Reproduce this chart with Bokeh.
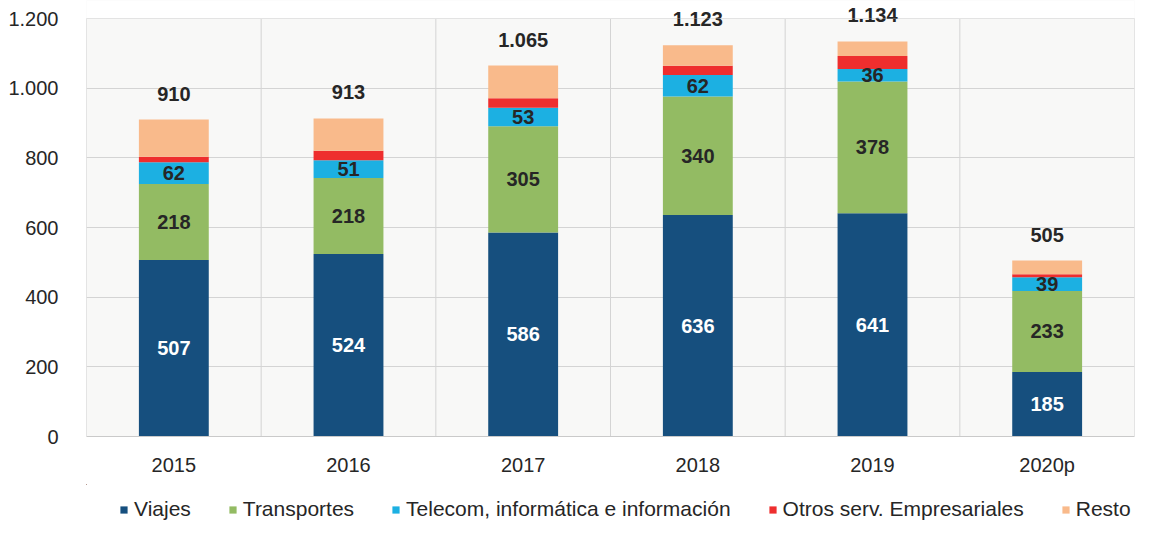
from bokeh.plotting import figure
from bokeh.layouts import column
from bokeh.models import (ColumnDataSource, Legend, LegendItem, FixedTicker, Range1d,
                          BoxAnnotation)
from bokeh.embed import file_html
from bokeh.resources import INLINE
from bokeh.core.properties import value

years = ["2015", "2016", "2017", "2018", "2019", "2020p"]
viajes = [507, 524, 586, 636, 641, 185]
transportes = [218, 218, 305, 340, 378, 233]
telecom = [62, 51, 53, 62, 36, 39]
otros = [16, 27, 27, 26, 37, 9]
resto = [107, 93, 94, 59, 42, 39]
totals = [910, 913, 1065, 1123, 1134, 505]

series = ["Viajes", "Transportes", "Telecom, informática e información",
          "Otros serv. Empresariales", "Resto"]
colors = ["#164F7E", "#93BB63", "#1CB0E2", "#EE2E2E", "#F9BA8B"]
y_ticks = [0, 200, 400, 600, 800, 1000, 1200]
y_max = 1200

FONT = "Liberation Sans"
GRID = "#D4D4D4"
TXT = "#262626"

def fmt(v):
    return f"{v:,}".replace(",", ".")

n = len(years)
x = [i + 0.5 for i in range(n)]
keys = ["viajes", "transportes", "telecom", "otros", "resto"]
data = dict(x=x)
for k, arr in zip(keys, [viajes, transportes, telecom, otros, resto]):
    data[k] = arr
src = ColumnDataSource(data)

# frame from fig y=0 to 436 ; 1200 sits 18px below the frame top
frame_h = 436
y_end = y_max * frame_h / (frame_h - 18)

p = figure(width=1137, height=484, output_backend="svg", toolbar_location=None,
           x_range=Range1d(0, n), y_range=Range1d(0, y_end),
           min_border_left=86, min_border_right=3, min_border_top=0, min_border_bottom=48)
p.background_fill_color = "#F8F8F7"
p.border_fill_color = "white"
p.outline_line_color = None

# white area above the plot box
p.add_layout(BoxAnnotation(bottom=y_max, fill_color="white", fill_alpha=1,
                           line_color=None, level="underlay"))

# grids
p.xgrid.visible = False
p.ygrid.ticker = FixedTicker(ticks=y_ticks)
p.ygrid.grid_line_color = GRID
p.ygrid.grid_line_width = 1
bounds = list(range(n + 1))
p.segment(x0=bounds, x1=bounds, y0=[0] * len(bounds), y1=[y_max] * len(bounds),
          line_color=GRID, line_width=1, level="underlay")

renderers = p.vbar_stack(keys, x="x", width=0.4, color=colors, source=src, line_color=None)

# plot-box outline
p.add_layout(BoxAnnotation(bottom=0, top=y_max, left=0, right=n, fill_alpha=0,
                           line_color=GRID, line_width=1))

# axes
p.xaxis.ticker = FixedTicker(ticks=x)
p.xaxis.major_label_overrides = {xx: y for xx, y in zip(x, years)}
p.xaxis.major_tick_line_color = None
p.xaxis.minor_tick_line_color = None
p.xaxis.axis_line_color = "#C8C8C8"
p.xaxis.major_label_standoff = 11
p.xaxis.major_label_text_font = FONT
p.xaxis.major_label_text_font_size = "20px"
p.xaxis.major_label_text_color = TXT

p.yaxis.ticker = FixedTicker(ticks=y_ticks)
p.yaxis.major_label_overrides = {t: fmt(t) for t in y_ticks}
p.yaxis.axis_line_color = None
p.yaxis.major_tick_line_color = None
p.yaxis.minor_tick_line_color = None
p.yaxis.major_label_standoff = 22
p.yaxis.major_label_text_font = FONT
p.yaxis.major_label_text_font_size = "20px"
p.yaxis.major_label_text_color = TXT

# segment labels
lab_x, lab_y, lab_t, lab_c = [], [], [], []
for i in range(n):
    base = 0
    for arr, col in [(viajes, "white"), (transportes, TXT), (telecom, TXT)]:
        v = arr[i]
        lab_x.append(x[i]); lab_y.append(base + v / 2); lab_t.append(fmt(v)); lab_c.append(col)
        base += v
lsrc = ColumnDataSource(dict(x=lab_x, y=lab_y, t=lab_t, c=lab_c))
p.text(x="x", y="y", text="t", source=lsrc, text_color="c", text_align="center",
       text_baseline="middle", text_font=value(FONT), text_font_style="bold",
       text_font_size="20px")

tsrc = ColumnDataSource(dict(x=x, y=totals, t=[fmt(v) for v in totals]))
p.text(x="x", y="y", text="t", source=tsrc, text_color=TXT, text_align="center",
       text_baseline="middle", y_offset=-26, text_font=value(FONT), text_font_style="bold",
       text_font_size="20px")

# legend in a strip below (its bars sit well outside the strip's visible ranges)
pl = figure(width=1137, height=38, output_backend="svg", toolbar_location=None,
            x_range=Range1d(100, 101), y_range=Range1d(-3000, -2999), min_border=0,
            min_border_left=86, min_border_right=3,
            x_axis_type=None, y_axis_type=None)
pl.grid.visible = False
pl.outline_line_color = None
pl.background_fill_color = "white"
swatches = pl.vbar_stack(keys, x="x", width=0.4, color=colors, source=src, line_color=None)
legend = Legend(items=[LegendItem(label=s, renderers=[r]) for s, r in zip(series, swatches)],
                orientation="horizontal", location=(33, 1),
                label_text_font=FONT, label_text_font_size="21px", label_text_color=TXT,
                glyph_width=9, glyph_height=9, label_standoff=6, spacing=37, label_height=22,
                border_line_color=None, background_fill_alpha=0, margin=0, padding=0)
pl.add_layout(legend, "center")

open("out.html", "w").write(file_html(column(p, pl), INLINE))
